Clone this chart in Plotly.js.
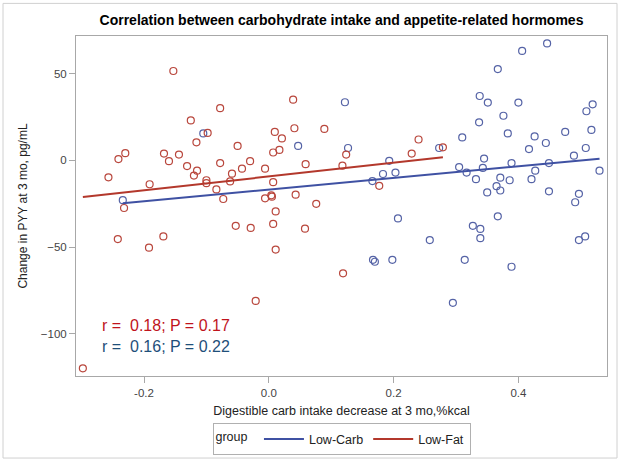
<!DOCTYPE html>
<html><head><meta charset="utf-8">
<script src="https://cdn.plot.ly/plotly-3.0.1.min.js"></script>
<style>html,body{margin:0;padding:0;background:#fff}#chart{width:621px;height:467px}</style>
</head><body><div id="chart"></div>
<script>
// Low-Fat group (red)
const lowFatX = [-0.153,-0.078,-0.125,-0.098,-0.116,-0.050,-0.241,-0.230,-0.168,-0.160,
 -0.144,-0.078,-0.030,-0.006,-0.257,-0.131,-0.115,-0.120,-0.100,-0.100,
 -0.059,-0.043,-0.062,-0.084,-0.191,-0.073,-0.006,-0.232,-0.242,-0.192,
 -0.169,-0.053,-0.029,-0.021,-0.298,0.039,0.0096,0.041,0.089,0.021,
 0.007,0.017,0.124,0.240,0.229,0.279,0.059,0.118,0.177,0.007,
 0.004,0.005,0.043,0.076,0.011,0.007,0.058,0.011,0.119];
const lowFatY = [51.5,30.1,23,15.8,10.4,8.3,0.7,4.1,3.9,-0.5,
 3.3,-1.6,-0.5,-4.8,-9.8,-3.3,-6,-8.8,-11.5,-13.2,
 -7.7,-4.8,-12.2,-16.8,-13.8,-22.3,-21.9,-27.5,-45.4,-50.4,
 -43.9,-37.8,-39,-81.1,-120,35,16.4,18.5,18.1,12.6,
 4.5,6,3.3,12,3.9,7.5,-2.2,-3.1,-14.7,-12.6,
 -20.2,-21,-19.8,-25.1,-29.5,-36.7,-39.4,-51.5,-65.2];
// Low-Carb group (blue)
const lowCarbX = [-0.105,-0.234,0.122,0.047,0.127,0.273,0.310,0.193,0.183,0.203,
 0.166,0.305,0.207,0.258,0.167,0.170,0.198,0.295,0.446,0.406,
 0.367,0.338,0.351,0.400,0.376,0.519,0.509,0.337,0.383,0.426,
 0.475,0.517,0.444,0.417,0.508,0.489,0.345,0.317,0.343,0.389,
 0.449,0.427,0.530,0.332,0.371,0.386,0.421,0.365,0.371,0.350,
 0.449,0.497,0.491,0.367,0.327,0.339,0.339,0.314,0.389,0.497,0.507];
const lowCarbY = [15.5,-23,33.5,8.3,7.1,7.1,13.2,-0.3,-7.9,-7.1,
 -12,-3.9,-33.5,-46,-57.4,-58.5,-57.4,-82.2,67.4,63.1,
 52.6,37.1,33.3,33.3,25.7,32.3,28.3,21.9,15.5,13.8,
 16.4,17.5,10,6.5,7.1,2.7,1.0,-7.1,-4.4,-1.6,
 -1.6,-6,-6,-10.9,-10,-11.5,-10.9,-14.9,-17.4,-18.5,
 -17.9,-19.3,-24.2,-32.3,-37.8,-39.6,-44.9,-57.4,-61.4,-46,-43.9];
// Fit lines (endpoints)
const lowCarbFitX = [-0.234, 0.530];
const lowCarbFitY = [-24.8, 0.9];
const lowFatFitX = [-0.298, 0.279];
const lowFatFitY = [-21.2, 1.8];
const groupNames = ["Low-Carb", "Low-Fat"];
const statLabels = ["r =  0.18; P = 0.17", "r =  0.16; P = 0.22"];
const xTicks = [-0.2, 0.0, 0.2, 0.4];
const xTickText = ["-0.2", "0.0", "0.2", "0.4"];
const yTicks = [-100, -50, 0, 50];

const blueM = "#5563a6", redM = "#b9473d";
const blueL = "#3f51a3", redL = "#b3382c";
const W = 621, H = 467, mL = 76, mR = 14, mT = 36, mB = 87;
const pw = W - mL - mR, ph = H - mT - mB;

const traces = [
  {x: lowCarbX, y: lowCarbY, mode: "markers", type: "scatter", showlegend: false,
   marker: {symbol: "circle-open", size: 7, color: blueM, line: {width: 1.2, color: blueM}}},
  {x: lowFatX, y: lowFatY, mode: "markers", type: "scatter", showlegend: false,
   marker: {symbol: "circle-open", size: 7, color: redM, line: {width: 1.2, color: redM}}},
  {x: lowCarbFitX, y: lowCarbFitY, mode: "lines", type: "scatter", name: groupNames[0],
   line: {color: blueL, width: 2}},
  {x: lowFatFitX, y: lowFatFitY, mode: "lines", type: "scatter", name: groupNames[1],
   line: {color: redL, width: 2}}
];

const layout = {
  width: W, height: H,
  margin: {l: mL, r: mR, t: mT, b: mB},
  paper_bgcolor: "#fff", plot_bgcolor: "#fff",
  font: {family: "Liberation Sans, Arial, sans-serif", size: 11, color: "#444444"},
  title: {text: "<b>Correlation between carbohydrate intake and appetite-related hormomes</b>",
    font: {size: 14, color: "#000"}, x: 0.5, xref: "paper", xanchor: "center",
    y: 1 - 20 / H, yanchor: "middle"},
  xaxis: {range: [-0.309, 0.542], tickvals: xTicks, ticktext: xTickText,
    showgrid: false, zeroline: false, showline: true, mirror: true,
    linecolor: "#a8a8a8", linewidth: 1, ticks: "outside", ticklen: 6, tickcolor: "#a8a8a8",
    tickfont: {size: 11.5, color: "#444444"},
    title: {text: "Digestible carb intake decrease at 3 mo,%kcal", font: {size: 12.5, color: "#222222"}, standoff: 8}},
  yaxis: {range: [-124.4, 71.7], tickvals: yTicks,
    showgrid: false, zeroline: false, showline: true, mirror: true,
    linecolor: "#a8a8a8", linewidth: 1, ticks: "outside", ticklen: 6, tickcolor: "#a8a8a8",
    tickfont: {size: 11.5, color: "#444444"},
    title: {text: "Change in PYY at 3 mo, pg/mL", font: {size: 12, color: "#222222"}, standoff: 10}},
  legend: {orientation: "h", x: 0.5, xanchor: "center", y: -(444 - (H - mB)) / ph, yanchor: "middle",
    bordercolor: "#b0b0b0", borderwidth: 1, bgcolor: "#fff",
    title: {text: "group ", side: "left", font: {size: 12.5, color: "#222222"}},
    font: {size: 12.5, color: "#222222"}, itemwidth: 40},
  annotations: [
    {text: statLabels[0], xref: "paper", yref: "paper", x: (100 - mL) / pw, y: 1 - (329 - mT) / ph,
     xanchor: "left", yanchor: "middle", showarrow: false, font: {size: 16, color: "#c0141c"}},
    {text: statLabels[1], xref: "paper", yref: "paper", x: (100 - mL) / pw, y: 1 - (350 - mT) / ph,
     xanchor: "left", yanchor: "middle", showarrow: false, font: {size: 16, color: "#1f4f7a"}}
  ],
  shapes: [
    {type: "rect", xref: "paper", yref: "paper", layer: "below",
     x0: (3 - mL) / pw, x1: (617 - mL) / pw, y0: -(463 - (H - mB)) / ph, y1: 1 + (mT - 3) / ph,
     line: {color: "#d0d0d0", width: 1}, fillcolor: "rgba(0,0,0,0)"}
  ]
};

Plotly.newPlot("chart", traces, layout, {displayModeBar: false, staticPlot: true});
</script>
</body></html>
